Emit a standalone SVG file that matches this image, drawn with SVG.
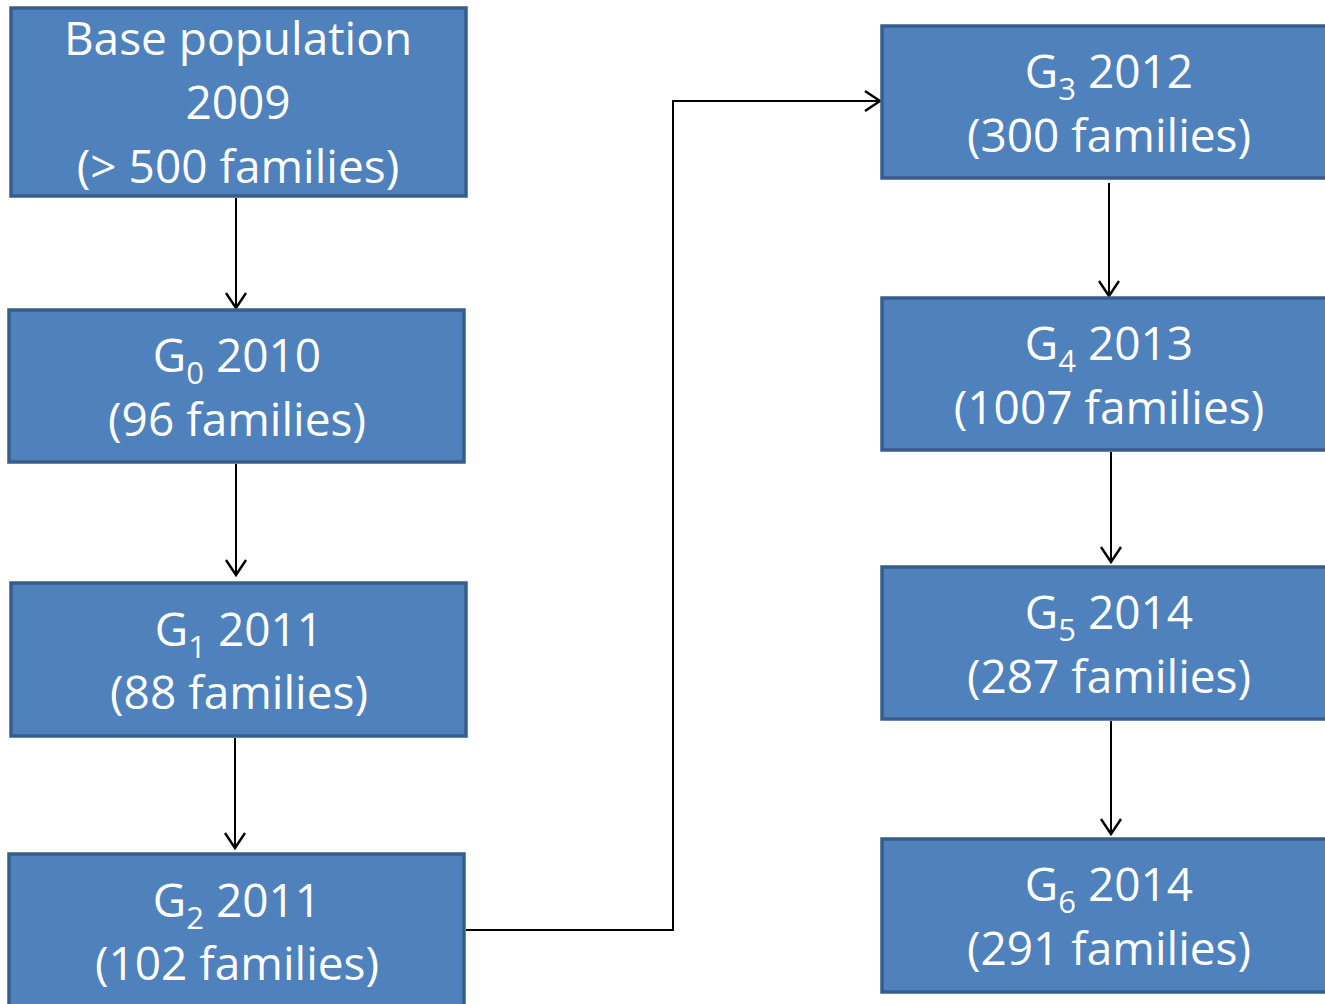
<svg xmlns="http://www.w3.org/2000/svg" width="1325" height="1004" viewBox="0 0 1325 1004">
<defs>
<style>
.box{fill:#4F81BD;stroke:#385D8A;stroke-width:3.5}
.t{font-family:"Open Sans","Noto Sans","Liberation Sans",sans-serif;font-size:46px;fill:#fff;text-anchor:middle}
.sub{font-size:31px}
.c{fill:none;stroke:#000;stroke-width:2}
</style>
<marker id="ah" markerWidth="20" markerHeight="24" refX="16" refY="11" orient="auto" markerUnits="userSpaceOnUse" viewBox="0 0 20 24">
<path d="M1,1 L16,11 L1,21" fill="none" stroke="#000" stroke-width="2.4"/>
</marker>
</defs>
<rect width="1325" height="1004" fill="#fff"/>
<g id="connectors">
<line class="c" x1="236" y1="198" x2="236" y2="308" marker-end="url(#ah)"/>
<line class="c" x1="236" y1="464" x2="236" y2="575" marker-end="url(#ah)"/>
<line class="c" x1="235" y1="738" x2="235" y2="848" marker-end="url(#ah)"/>
<polyline class="c" points="466,930 673,930 673,101 880,101" marker-end="url(#ah)"/>
<line class="c" x1="1109" y1="183" x2="1109" y2="296" marker-end="url(#ah)"/>
<line class="c" x1="1111" y1="452" x2="1111" y2="562" marker-end="url(#ah)"/>
<line class="c" x1="1111" y1="721" x2="1111" y2="834" marker-end="url(#ah)"/>
</g>
<g id="base">
<rect class="box" x="11" y="8" width="455" height="188"/>
<text class="t" x="238" y="55">Base population</text>
<text class="t" x="238" y="119">2009</text>
<text class="t" x="238" y="183">(&gt; 500 families)</text>
</g>
<g id="g0">
<rect class="box" x="9" y="310" width="455" height="152"/>
<text class="t" x="237" y="372">G<tspan class="sub" dy="12">0</tspan><tspan dy="-12"> 2010</tspan></text>
<text class="t" x="237" y="436">(96 families)</text>
</g>
<g id="g1">
<rect class="box" x="11" y="583" width="455" height="153"/>
<text class="t" x="239" y="646">G<tspan class="sub" dy="12">1</tspan><tspan dy="-12"> 2011</tspan></text>
<text class="t" x="239" y="709">(88 families)</text>
</g>
<g id="g2">
<rect class="box" x="9" y="854" width="455" height="160"/>
<text class="t" x="237" y="917">G<tspan class="sub" dy="12">2</tspan><tspan dy="-12"> 2011</tspan></text>
<text class="t" x="237" y="980">(102 families)</text>
</g>
<g id="g3">
<rect class="box" x="882" y="26" width="456" height="152"/>
<text class="t" x="1109" y="88">G<tspan class="sub" dy="12">3</tspan><tspan dy="-12"> 2012</tspan></text>
<text class="t" x="1109" y="152">(300 families)</text>
</g>
<g id="g4">
<rect class="box" x="882" y="298" width="456" height="152"/>
<text class="t" x="1109" y="360">G<tspan class="sub" dy="12">4</tspan><tspan dy="-12"> 2013</tspan></text>
<text class="t" x="1109" y="424">(1007 families)</text>
</g>
<g id="g5">
<rect class="box" x="882" y="567" width="456" height="152"/>
<text class="t" x="1109" y="629">G<tspan class="sub" dy="12">5</tspan><tspan dy="-12"> 2014</tspan></text>
<text class="t" x="1109" y="693">(287 families)</text>
</g>
<g id="g6">
<rect class="box" x="882" y="839" width="456" height="153"/>
<text class="t" x="1109" y="901">G<tspan class="sub" dy="12">6</tspan><tspan dy="-12"> 2014</tspan></text>
<text class="t" x="1109" y="965">(291 families)</text>
</g>
</svg>
